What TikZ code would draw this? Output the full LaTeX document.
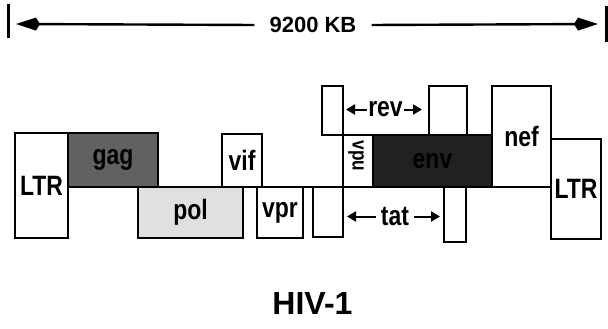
\documentclass[tikz,border=0pt]{standalone}
\usepackage{fontspec}
\setmainfont{Liberation Sans}
\newfontfamily\genefont{Liberation Sans}[FakeStretch=0.82]
\usepackage{tikz}
\usetikzlibrary{arrows.meta}

\begin{document}
\begin{tikzpicture}[
    x=1pt, y=-1pt,
    % --- gene / LTR box, anchored at its top left corner ---
    gene/.style={draw=black, line width=1.8pt, fill=white, anchor=north west,
                 inner sep=0pt, outer sep=0pt,
                 font=\genefont\bfseries\fontsize{28}{30}\selectfont},
    % --- free labels (rev, tat, vpu) ---
    lbl/.style={inner sep=1pt, font=\genefont\bfseries\fontsize{28}{30}\selectfont},
    % --- length scale on top ---
    sizelbl/.style={inner xsep=15pt, inner ysep=1pt,
                    font=\bfseries\fontsize{22}{24}\selectfont},
    span/.style={line width=2.4pt, -{Kite[length=24pt,width=13pt,inset=4pt]}},
    short/.style={line width=2pt, -{Triangle[length=9pt,width=10pt]}},
    axis/.style={line width=1.8pt},
  ]
  \useasboundingbox (0,0) rectangle (608,329);

  % ---- size of the genome -------------------------------------------------
  \node[sizelbl] (kb) at (313,25) {9200 KB};
  \coordinate (tipL) at (16,24);
  \coordinate (tipR) at (598,24);
  \draw[span] (kb.west) -- (tipL);
  \draw[span] (kb.east) -- (tipR);
  \draw[line width=3pt] (8,4) -- (8,38);
  \draw[line width=3pt] (606,6) -- (606,42);

  % ---- genome axis ----------------------------------------------------------
  \coordinate (axL) at (68,187);
  \coordinate (axR) at (551,187);
  \draw[axis] (axL) -- (axR);

  % ---- genes ----------------------------------------------------------------
  \node[gene, minimum width=53, minimum height=105] (ltrL) at (15,133) {LTR};
  \node[gene, minimum width=90, minimum height=54, fill=black!62] (gag) at (68,133) {gag};
  \node[gene, minimum width=105, minimum height=51, fill=black!12] (pol) at (138,187) {pol};
  \node[gene, minimum width=40, minimum height=53] (vif) at (222,134) {vif};
  \node[gene, minimum width=46, minimum height=51] (vpr) at (257,187) {vpr};
  \node[gene, minimum width=30, minimum height=50] (tatA) at (313,187) {};
  \node[gene, minimum width=21, minimum height=49] (revA) at (322,86) {};
  \node[gene, minimum width=30, minimum height=52] (vpu) at (343,135) {};
  \node[gene, minimum width=119, minimum height=52, fill=black!87] (env) at (373,135) {env};
  \node[gene, minimum width=38, minimum height=49] (revB) at (429,86) {};
  \node[gene, minimum width=22, minimum height=55] (tatB) at (444,187) {};
  \node[gene, minimum width=59, minimum height=101] (nef) at (492,86) {nef};
  \node[gene, minimum width=50, minimum height=100] (ltrR) at (551,139) {LTR};

  \node[lbl, rotate=-90, font=\genefont\bfseries\fontsize{21}{23}\selectfont]
        (vpuname) at (356,156) {vpu};

  % ---- spliced genes rev and tat ------------------------------------------------
  \node[lbl] (rev) at (385.5,109.5) {rev};
  \coordinate (revL) at (346,109.5);
  \coordinate (revR) at (422,109.5);
  \draw[short] (rev.west) -- (revL);
  \draw[short] (rev.east) -- (revR);

  \node[lbl] (tat) at (395,216.5) {tat};
  \coordinate (tatL) at (347,216.5);
  \coordinate (tatR) at (440,216.5);
  \draw[short] ([xshift=-4pt]tat.west) -- (tatL);
  \draw[short] ([xshift=4pt]tat.east) -- (tatR);

  % ---- title ------------------------------------------------------------------------
  \node[font=\bfseries\fontsize{32}{34}\selectfont] (hiv) at (312.5,303.5) {HIV-1};

\end{tikzpicture}
\end{document}
